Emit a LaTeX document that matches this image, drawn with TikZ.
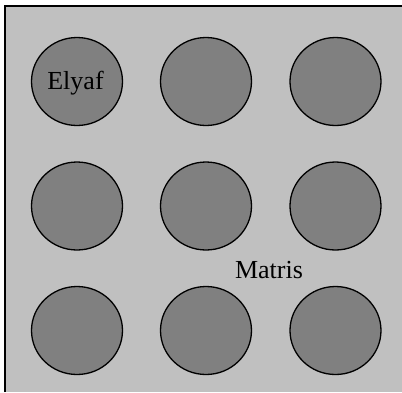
\documentclass[tikz,border=0pt]{standalone}
\usepackage{fontspec}
\setmainfont{Liberation Serif}
\usetikzlibrary{shapes.geometric}
\definecolor{matrixgray}{HTML}{C0C0C0}
\definecolor{fibergray}{HTML}{808080}
\begin{document}
\begin{tikzpicture}[x=1pt,y=-1pt,
  fiber/.style={ellipse,draw=black,fill=fibergray,line width=1.3pt,
    minimum width=91pt,minimum height=88pt,inner sep=0pt},
  label text/.style={font=\fontsize{26}{30}\selectfont,inner sep=0pt}]
\useasboundingbox (0,0) rectangle (402,392);
\fill[matrixgray] (5,6) rectangle (402,392);
\draw[line width=1.3pt] (5,392) -- (5,6) -- (402,6);
\node[fiber] (f11) at (77,81.5) {};
\node[fiber] (f12) at (206,81.5) {};
\node[fiber] (f13) at (335.5,81.5) {};
\node[fiber] (f21) at (77,206) {};
\node[fiber] (f22) at (206,206) {};
\node[fiber] (f23) at (335.5,206) {};
\node[fiber] (f31) at (77,330.5) {};
\node[fiber] (f32) at (206,330.5) {};
\node[fiber] (f33) at (335.5,330.5) {};
\node[label text,anchor=base] (elyaf) at (75.5,89) {Elyaf};
\node[label text,anchor=base] (matris) at (269,278) {Matris};
\end{tikzpicture}
\end{document}
